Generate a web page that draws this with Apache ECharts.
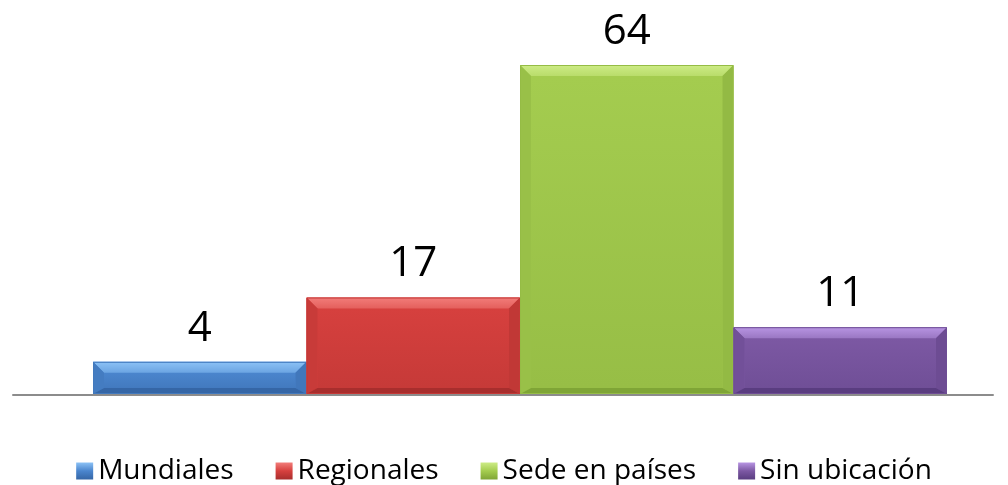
<!DOCTYPE html>
<html>
<head>
<meta charset="utf-8">
<script src="https://cdn.jsdelivr.net/npm/echarts@6/dist/echarts.min.js"></script>
<style>
html,body{margin:0;padding:0;background:#fff;}
#chart{width:1008px;height:485px;}
</style>
</head>
<body>
<div id="chart"></div>
<script>
const categories = ['Mundiales', 'Regionales', 'Sede en países', 'Sin ubicación'];
const values = [4, 17, 64, 11];
const baseColors = ['#4a85cd', '#d6403e', '#a4cc4f', '#7c58a3'];
const lightColors = ['#8cc2f6', '#f27d7a', '#cdec86', '#b895e3'];
const darkColors = ['#3566a6', '#a82e2d', '#7fa536', '#5a3d80'];

const Y_MIN = -2.5;
const Y_MAX = 64;

function lin(x1, y1, x2, y2, stops) {
  return new echarts.graphic.LinearGradient(x1, y1, x2, y2, stops);
}

function makeRender(idx) {
  return function (params, api) {
    const cat = api.value(0);
    const v = api.value(1);
    const topPt = api.coord([cat, v]);
    const basePt = api.coord([cat, Y_MIN]);
    const w = api.size([1, 0])[0];
    const x0 = topPt[0] - w / 2, x1 = topPt[0] + w / 2;
    const y0 = topPt[1], y1 = basePt[1];
    const h = y1 - y0;
    const b = Math.min(11, h / 2.5);
    const bb = Math.min(6, h / 5);
    const base = baseColors[idx], light = lightColors[idx], dark = darkColors[idx];
    return {
      type: 'group',
      children: [
        { type: 'rect', shape: { x: x0, y: y0, width: w, height: h },
          style: { fill: base } },
        { type: 'rect', shape: { x: x0 + b, y: y0 + b, width: w - 2 * b, height: h - b - bb },
          style: { fill: lin(0, 0, 0, 1, [{ offset: 0, color: base }, { offset: 1, color: echarts.color.lerp(0.35, [base, dark]) }]) } },
        { type: 'polygon', shape: { points: [[x0, y0], [x1, y0], [x1 - b, y0 + b], [x0 + b, y0 + b]] },
          style: { fill: lin(0, 0, 0, 1, [{ offset: 0, color: light }, { offset: 1, color: echarts.color.lerp(0.5, [light, base]) }]) } },
        { type: 'polygon', shape: { points: [[x0, y0], [x0 + b, y0 + b], [x0 + b, y1 - bb], [x0, y1]] },
          style: { fill: echarts.color.lerp(0.3, [base, dark]) } },
        { type: 'polygon', shape: { points: [[x1, y0], [x1 - b, y0 + b], [x1 - b, y1 - bb], [x1, y1]] },
          style: { fill: echarts.color.lerp(0.45, [base, dark]) } },
        { type: 'polygon', shape: { points: [[x0, y1], [x0 + b, y1 - bb], [x1 - b, y1 - bb], [x1, y1]] },
          style: { fill: dark } },
        { type: 'rect', shape: { x: x0 + 0.5, y: y0 + 0.5, width: w - 1, height: h - 1 },
          style: { fill: null, stroke: echarts.color.lerp(0.4, [base, dark]), lineWidth: 1 } },
        { type: 'text', style: { text: String(v), x: topPt[0], y: y0 - 12, align: 'center', verticalAlign: 'bottom',
          font: '42px "Open Sans", sans-serif', fill: '#000' } }
      ]
    };
  };
}

const series = categories.map((name, i) => ({
  name: name,
  type: 'custom',
  xAxisIndex: 0,
  yAxisIndex: 0,
  itemStyle: { color: baseColors[i] },
  renderItem: makeRender(i),
  encode: { x: 0, y: 1 },
  data: [[i, values[i]]],
  z: 3
}));

const chart = echarts.init(document.getElementById('chart'), null, { renderer: 'canvas' });
chart.setOption({
  animation: false,
  backgroundColor: '#ffffff',
  grid: [
    { left: 93, right: 61, top: 65, bottom: 91 },
    { left: 13, right: 15, top: 65, bottom: 90 }
  ],
  xAxis: [
    { type: 'category', gridIndex: 0, data: categories, show: false },
    { type: 'category', gridIndex: 1, data: [''], axisLine: { show: true, lineStyle: { color: '#8c8c8c', width: 2 } },
      axisTick: { show: false }, axisLabel: { show: false }, z: 1 }
  ],
  yAxis: [
    { type: 'value', gridIndex: 0, min: Y_MIN, max: Y_MAX, show: false },
    { type: 'value', gridIndex: 1, min: 0, max: 1, show: false }
  ],
  legend: {
    top: 457,
    left: 'center',
    icon: 'rect',
    itemWidth: 17,
    itemHeight: 17,
    itemGap: 42,
    padding: 0,
    textStyle: { fontSize: 28, fontFamily: '"Open Sans", sans-serif', color: '#000', lineHeight: 28 },
    data: categories.map((c, i) => ({
      name: c,
      itemStyle: { color: lin(0, 0, 0, 1, [{ offset: 0, color: lightColors[i] }, { offset: 0.5, color: baseColors[i] }, { offset: 1, color: darkColors[i] }]) }
    }))
  },
  series: series
});
</script>
</body>
</html>
